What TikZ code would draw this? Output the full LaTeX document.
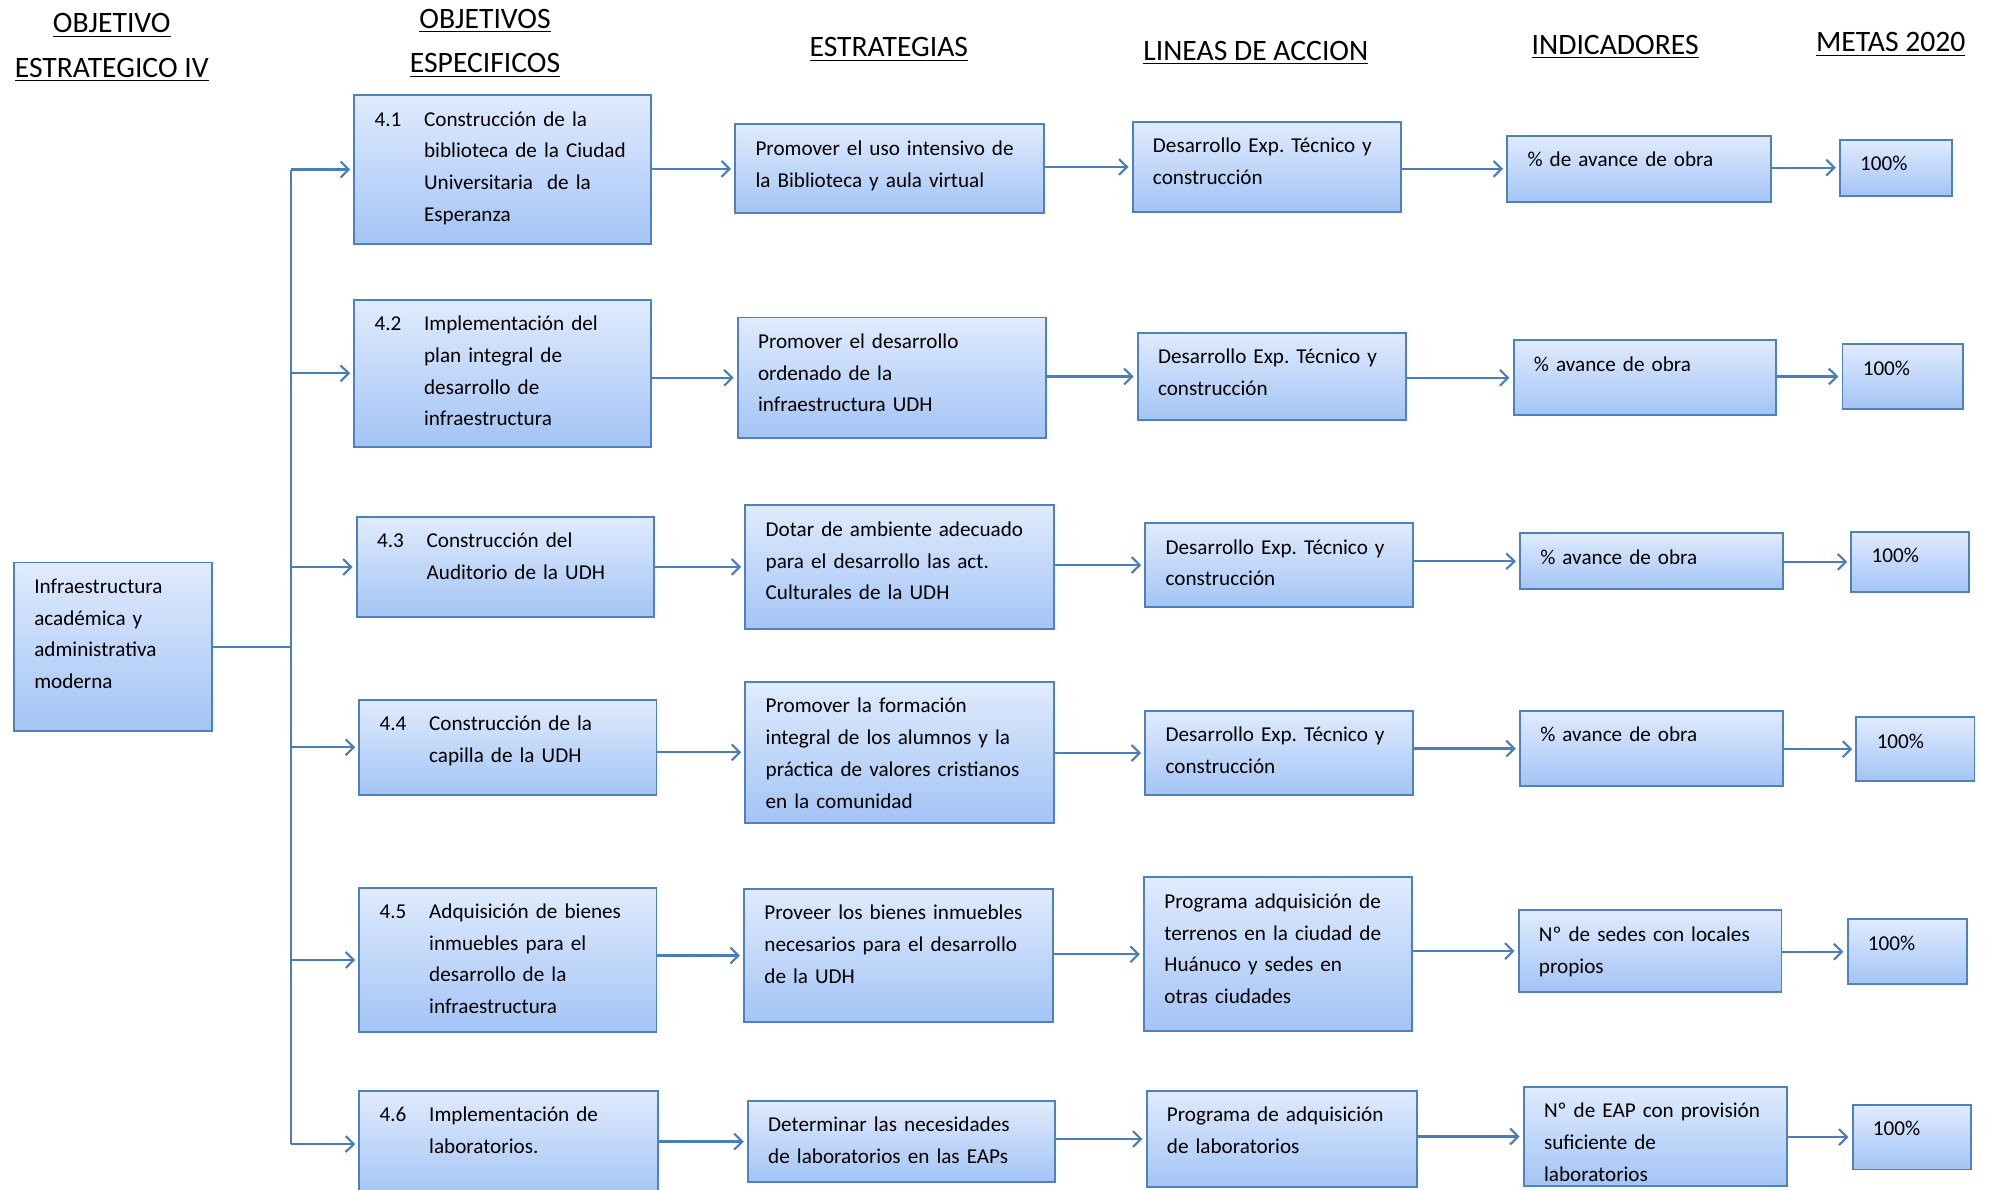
\documentclass[tikz,border=0pt]{standalone}
\usepackage{fontspec}
\setmainfont{Carlito}
\usetikzlibrary{arrows.meta}

\definecolor{bordeazul}{RGB}{79,129,189}
\definecolor{azulclaro}{RGB}{224,235,253}
\definecolor{azulfondo}{RGB}{163,196,245}
\definecolor{lineaazul}{RGB}{74,126,187}

\newcommand{\letra}{\fontsize{10}{15}\selectfont\frenchspacing}
\newcommand{\numobj}[2]{\makebox[23.4pt][l]{#1}\parbox[t]{\dimexpr\linewidth-13.4pt\relax}{#2}}

\begin{document}
\begin{tikzpicture}[x=0.6pt, y=-0.6pt,
    caja/.style 2 args={draw=bordeazul, line width=0.9pt, top color=azulclaro, bottom color=azulfondo,
            inner xsep=9.6pt, inner ysep=0pt, align=left, font=\letra,
            minimum width=#1*0.6pt, text width=#1*0.6pt-19.2pt,
            text height=14.6pt, text depth=#2*0.6pt-14.6pt},
    titulo/.style={font=\fontsize{14}{21}\selectfont, align=center},
    linea/.style={draw=lineaazul, line width=1pt},
    flecha/.style={linea, -{Straight Barb[length=3.8pt, width=7.5pt]}, shorten >=1.5pt}]
    \useasboundingbox (0,0) rectangle (1568,937);

    % cabeceras
    \node[titulo] (cabobj) at (88,37.5) {\underline{OBJETIVO}\\\underline{ESTRATEGICO IV}};
    \node[titulo] (cabesp) at (382,34) {\underline{OBJETIVOS}\\\underline{ESPECIFICOS}};
    \node[titulo] (cabest) at (700,39) {\underline{ESTRATEGIAS}};
    \node[titulo] (cablin) at (989,42) {\underline{LINEAS DE ACCION}};
    \node[titulo] (cabind) at (1272,37) {\underline{INDICADORES}};
    \node[titulo] (cabmet) at (1489,35) {\underline{METAS 2020}};

    % objetivo estrategico
    \node[caja={156}{133}] (raiz) at (89,509.5) {Infraestructura\\académica y\\administrativa\\moderna};

    % objetivos especificos
    \node[caja={234}{117}] (o1) at (396,133.5) {\numobj{4.1}{Construcción de la\\biblioteca de la Ciudad\\Universitaria\ \ de la\\Esperanza}};
    \node[caja={234}{116}] (o2) at (396,294) {\numobj{4.2}{Implementación del\\plan integral de\\desarrollo de\\infraestructura}};
    \node[caja={234}{79}] (o3) at (398,446.5) {\numobj{4.3}{Construcción del\\Auditorio de la UDH}};
    \node[caja={234}{75}] (o4) at (400,588.5) {\numobj{4.4}{Construcción de la\\capilla de la UDH}};
    \node[caja={234}{114}] (o5) at (400,756) {\numobj{4.5}{Adquisición de bienes\\inmuebles para el\\desarrollo de la\\infraestructura}};
    \node[caja={235}{84}] (o6) at (400.5,901) {\numobj{4.6}{Implementación de\\laboratorios.}};

    % estrategias
    \node[caja={243}{70}] (e1) at (700.5,133) {Promover el uso intensivo de\\la Biblioteca y aula virtual};
    \node[caja={243}{95}] (e2) at (702.5,297.5) {Promover el desarrollo\\ordenado de la\\infraestructura UDH};
    \node[caja={243}{97}] (e3) at (708.5,446.5) {Dotar de ambiente adecuado\\para el desarrollo las act.\\Culturales de la UDH};
    \node[caja={243}{111}] (e4) at (708.5,592.5) {Promover la formación\\integral de los alumnos y la\\práctica de valores cristianos\\en la comunidad};
    \node[caja={243}{105}] (e5) at (707.5,752.5) {Proveer los bienes inmuebles\\necesarios para el desarrollo\\de la UDH};
    \node[caja={242}{64}] (e6) at (710,899) {Determinar las necesidades\\de laboratorios en las EAPs};

    % lineas de accion
    \node[caja={211}{71}] (l1) at (997.5,131.5) {Desarrollo Exp. Técnico y\\construcción};
    \node[caja={211}{69}] (l2) at (1001.5,296.5) {Desarrollo Exp. Técnico y\\construcción};
    \node[caja={211}{66}] (l3) at (1007.5,445) {Desarrollo Exp. Técnico y\\construcción};
    \node[caja={211}{66}] (l4) at (1007.5,593) {Desarrollo Exp. Técnico y\\construcción};
    \node[caja={211}{121}] (l5) at (1006.5,751.5) {Programa adquisición de\\terrenos en la ciudad de\\Huánuco y sedes en\\otras ciudades};
    \node[caja={213}{76}] (l6) at (1009.5,897) {Programa de adquisición\\de laboratorios};

    % indicadores
    \node[caja={208}{52}] (i1) at (1291,133) {\% de avance de obra};
    \node[caja={207}{59}] (i2) at (1295.5,297.5) {\% avance de obra};
    \node[caja={207}{44}] (i3) at (1300.5,442) {\% avance de obra};
    \node[caja={207}{59}] (i4) at (1300.5,589.5) {\% avance de obra};
    \node[caja={207}{64}] (i5) at (1299.5,749) {Nº de sedes con locales\\propios};
    \node[caja={207}{78}] (i6) at (1303.5,895) {Nº de EAP con provisión\\suficiente de\\laboratorios};

    % metas
    \node[caja={88}{44}] (m1) at (1493,132) {100\%};
    \node[caja={95}{51}] (m2) at (1498.5,296.5) {100\%};
    \node[caja={93}{47}] (m3) at (1504.5,442.5) {100\%};
    \node[caja={93}{50}] (m4) at (1508.5,590) {100\%};
    \node[caja={94}{51}] (m5) at (1502,749.5) {100\%};
    \node[caja={93}{51}] (m6) at (1505.5,895.5) {100\%};

    % conectores
    \coordinate (tronco) at (229,511);
    \draw[linea] (raiz.east) -- (raiz.east -| tronco);
    \draw[linea] (o1.west -| tronco) -- (o6.west -| tronco);
    \foreach \r in {1,...,6} {
            \draw[flecha] (o\r.west -| tronco) -- (o\r.west);
            \foreach \a/\b in {o/e,e/l,l/i,i/m} {
                    \draw[flecha] (\a\r.east |- \b\r.west) -- (\b\r.west);
                }
        }
\end{tikzpicture}
\end{document}
